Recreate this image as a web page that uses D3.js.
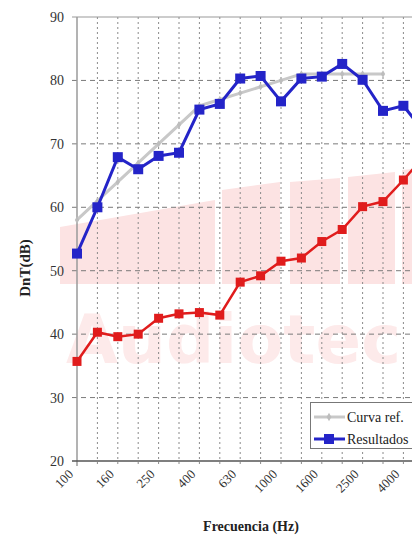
<!DOCTYPE html>
<html>
<head>
<meta charset="utf-8">
<script src="https://cdn.jsdelivr.net/npm/d3@7"></script>
<style>
  body { margin: 0; background: #fff; }
  svg { display: block; }
  text { font-family: "Liberation Serif", "Times New Roman", "DejaVu Serif", serif; }
</style>
</head>
<body>
<div id="container"></div>
<script>
let w = 412;
let h = 538;

// frequency bands (1/3 octave)
let freqs = ["100","125","160","200","250","315","400","500","630","800",
             "1000","1250","1600","2000","2500","3150","4000","5000"];
let freqLabels = ["100","160","250","400","630","1000","1600","2500","4000"];
let yTicks = [20, 30, 40, 50, 60, 70, 80, 90];

// reference curve (shifted), 100 - 3150 Hz
let refFreqs = freqs.slice(0, 16);
let refValues = [58, 61, 64, 67, 70, 73, 76, 77, 78, 79, 80, 81, 81, 81, 81, 81];

// measured results
let resultValues = [52.7, 60.0, 67.9, 66.0, 68.1, 68.6, 75.4, 76.3, 80.3, 80.7,
                    76.7, 80.3, 80.6, 82.6, 80.1, 75.2, 76.0, 72.0];

// second series (red)
let redValues = [35.7, 40.3, 39.6, 40.0, 42.5, 43.2, 43.4, 43.0, 48.2, 49.2,
                 51.5, 52.0, 54.6, 56.5, 60.1, 60.9, 64.3, 68.0];

let legendNames = ["Curva ref.", "Resultados"];

let plotLeft = 77, plotTop = 17, plotBottom = 461;
let plotRight = plotLeft + 17 * 20.4;

let serif = "'Liberation Serif', 'Times New Roman', 'DejaVu Serif', serif";

let viz = d3.select("#container")
  .append("svg")
    .attr("width", w)
    .attr("height", h)
    .style("background-color", "white")
;

let xScale = d3.scalePoint().domain(freqs).range([plotLeft, plotRight]);
let yScale = d3.scaleLinear().domain([20, 90]).range([plotBottom, plotTop]);

// watermark (Audiotec logo, pale pink)
let wm = viz.append("g");
let logoBars = [
  [60, 215, 227, 200],
  [222, 280, 190, 182],
  [290, 340, 182, 178],
  [348, 395, 177, 172],
  [402, 420, 170, 168]
];
logoBars.forEach(function(b){
  wm.append("path")
    .attr("d", "M" + b[0] + "," + b[2] + " L" + b[1] + "," + b[3] +
               " L" + b[1] + ",284 L" + b[0] + ",284 Z")
    .attr("fill", "#fce3e3");
});
wm.append("text")
  .attr("x", 66)
  .attr("y", 363)
  .style("font-family", "'DejaVu Sans', sans-serif")
  .attr("font-weight", "bold")
  .attr("font-size", 68)
  .attr("textLength", 335)
  .attr("lengthAdjust", "spacingAndGlyphs")
  .attr("fill", "#fdeaea")
  .text("Audiotec");

// grid
viz.selectAll(".vgrid").data(freqs.slice(1)).enter()
  .append("line")
    .attr("x1", d => xScale(d)).attr("x2", d => xScale(d))
    .attr("y1", plotTop).attr("y2", plotBottom + 5)
    .attr("stroke", "#8a8a8a")
    .attr("stroke-width", 1)
    .attr("stroke-dasharray", "2,3");

viz.selectAll(".hgrid").data(yTicks.slice(1, -1)).enter()
  .append("line")
    .attr("x1", plotLeft - 5).attr("x2", w)
    .attr("y1", d => yScale(d)).attr("y2", d => yScale(d))
    .attr("stroke", "#7a7a7a")
    .attr("stroke-width", 1)
    .attr("stroke-dasharray", "5,4");

// frame lines
viz.append("line")
  .attr("x1", plotLeft - 5).attr("x2", w)
  .attr("y1", yScale(90)).attr("y2", yScale(90))
  .attr("stroke", "#9a9a9a").attr("stroke-width", 1.2);
viz.append("line")
  .attr("x1", plotLeft).attr("x2", plotLeft)
  .attr("y1", plotTop).attr("y2", plotBottom + 5)
  .attr("stroke", "#9a9a9a").attr("stroke-width", 1.5);
viz.append("line")
  .attr("x1", plotLeft - 5).attr("x2", w)
  .attr("y1", plotBottom).attr("y2", plotBottom)
  .attr("stroke", "#555").attr("stroke-width", 1.5);

// y tick labels
viz.selectAll(".ylab").data(yTicks).enter()
  .append("text")
    .attr("x", 64)
    .attr("y", d => yScale(d) + 5)
    .attr("text-anchor", "end")
    .style("font-family", serif)
    .attr("font-size", 14)
    .attr("fill", "#333")
    .text(d => d);

// x tick labels
viz.selectAll(".xlab").data(freqLabels).enter()
  .append("text")
    .attr("transform", d => "translate(" + (xScale(d) - 3) + "," + (plotBottom + 14) + ") rotate(-45)")
    .attr("text-anchor", "end")
    .style("font-family", serif)
    .attr("font-size", 13)
    .attr("fill", "#333")
    .text(d => d);

// axis titles
viz.append("text")
  .attr("x", 251).attr("y", 531)
  .attr("text-anchor", "middle")
  .style("font-family", serif)
  .attr("font-weight", "bold")
  .attr("font-size", 14)
  .attr("fill", "#222")
  .text("Frecuencia (Hz)");
viz.append("text")
  .attr("transform", "translate(30,268) rotate(-90)")
  .attr("text-anchor", "middle")
  .style("font-family", serif)
  .attr("font-weight", "bold")
  .attr("font-size", 15)
  .attr("fill", "#222")
  .text("DnT(dB)");

let line = d3.line().x(d => xScale(d.f)).y(d => yScale(d.v));

function pairs(fs, vs){
  return fs.map(function(f, i){ return {f: f, v: vs[i]}; });
}

// reference curve
let refData = pairs(refFreqs, refValues);
viz.append("path").datum(refData)
  .attr("d", line)
  .attr("fill", "none")
  .attr("stroke", "#c8c8c8")
  .attr("stroke-width", 3);
viz.selectAll(".refpt").data(refData).enter()
  .append("path")
    .attr("transform", d => "translate(" + xScale(d.f) + "," + yScale(d.v) + ")")
    .attr("d", d3.symbol(d3.symbolDiamond, 16))
    .attr("fill", "#bdbdbd");

// red series
let redData = pairs(freqs, redValues);
viz.append("path").datum(redData)
  .attr("d", line)
  .attr("fill", "none")
  .attr("stroke", "#e01c1c")
  .attr("stroke-width", 2.5);
viz.selectAll(".redpt").data(redData).enter()
  .append("rect")
    .attr("x", d => xScale(d.f) - 4.5)
    .attr("y", d => yScale(d.v) - 4.5)
    .attr("width", 9).attr("height", 9)
    .attr("fill", "#e01c1c");

// results
let resData = pairs(freqs, resultValues);
viz.append("path").datum(resData)
  .attr("d", line)
  .attr("fill", "none")
  .attr("stroke", "#2424c8")
  .attr("stroke-width", 3);
viz.selectAll(".respt").data(resData).enter()
  .append("rect")
    .attr("x", d => xScale(d.f) - 5)
    .attr("y", d => yScale(d.v) - 5)
    .attr("width", 10).attr("height", 10)
    .attr("fill", "#2424c8");

// legend
let lg = viz.append("g");
lg.append("rect")
  .attr("x", 310.5).attr("y", 402.5)
  .attr("width", 120).attr("height", 46)
  .attr("fill", "white")
  .attr("stroke", "#777");
let legendColors = ["#c8c8c8", "#2424c8"];
legendNames.forEach(function(name, i){
  let yy = 417 + i * 22;
  lg.append("line")
    .attr("x1", 314).attr("x2", 345)
    .attr("y1", yy).attr("y2", yy)
    .attr("stroke", legendColors[i]).attr("stroke-width", 3);
  if (i == 0) {
    lg.append("path")
      .attr("transform", "translate(329," + yy + ")")
      .attr("d", d3.symbol(d3.symbolDiamond, 20))
      .attr("fill", "#bdbdbd");
  } else {
    lg.append("rect")
      .attr("x", 324).attr("y", yy - 5)
      .attr("width", 10).attr("height", 10)
      .attr("fill", "#2424c8");
  }
  lg.append("text")
    .attr("x", 347).attr("y", yy + 5)
    .style("font-family", serif)
    .attr("font-size", 14)
    .attr("fill", "#222")
    .text(name);
});
</script>
</body>
</html>
